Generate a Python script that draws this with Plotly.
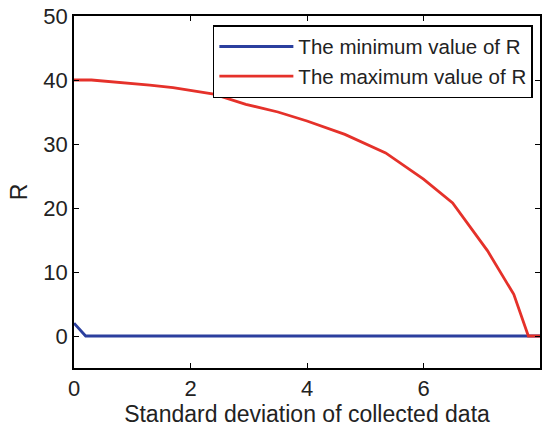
import plotly.graph_objects as go

# Data
x_min = [0.0, 0.2, 8.0]
r_min = [2.0, 0.0, 0.0]

x_max = [0.0, 0.3, 1.3, 1.7, 2.4, 2.95, 3.5, 4.0, 4.65, 5.35, 6.0, 6.5, 7.1, 7.55, 7.8, 8.0]
r_max = [40.0, 40.0, 39.2, 38.8, 37.8, 36.2, 35.0, 33.6, 31.5, 28.6, 24.5, 20.8, 13.3, 6.5, 0.0, 0.0]

x_ticks = [0, 2, 4, 6, 8]
y_ticks = [0, 10, 20, 30, 40, 50]

font = "Liberation Sans, Arial, sans-serif"

fig = go.Figure()
fig.add_trace(go.Scatter(x=x_min, y=r_min, mode="lines", name="The minimum value of R",
                         line=dict(color="#2B3F9E", width=2.8)))
fig.add_trace(go.Scatter(x=x_max, y=r_max, mode="lines", name="The maximum value of R",
                         line=dict(color="#E5312A", width=2.8)))

axis_common = dict(showline=True, linecolor="black", linewidth=1.5, mirror="ticks",
                   ticks="inside", ticklen=5, tickcolor="black", tickwidth=1,
                   showgrid=False, zeroline=False,
                   tickfont=dict(family=font, size=22, color="#222"))

fig.update_layout(
    width=546, height=429,
    margin=dict(l=74, r=4, t=15, b=61),
    paper_bgcolor="white", plot_bgcolor="white",
    xaxis=dict(range=[0, 8], tickvals=x_ticks,
               title=dict(text="Standard deviation of collected data",
                          font=dict(family=font, size=23, color="#222"), standoff=4),
               **axis_common),
    yaxis=dict(range=[-5, 50], tickvals=y_ticks,
               title=dict(text="R", font=dict(family=font, size=23, color="#222"), standoff=9),
               **axis_common),
    legend=dict(x=0.298, y=0.974, xanchor="left", yanchor="top",
                bordercolor="black", borderwidth=1.5, bgcolor="white",
                font=dict(family=font, size=20.5, color="#222"),
                itemwidth=74, tracegroupgap=0),
    showlegend=True,
)

fig.write_html("out.html")
